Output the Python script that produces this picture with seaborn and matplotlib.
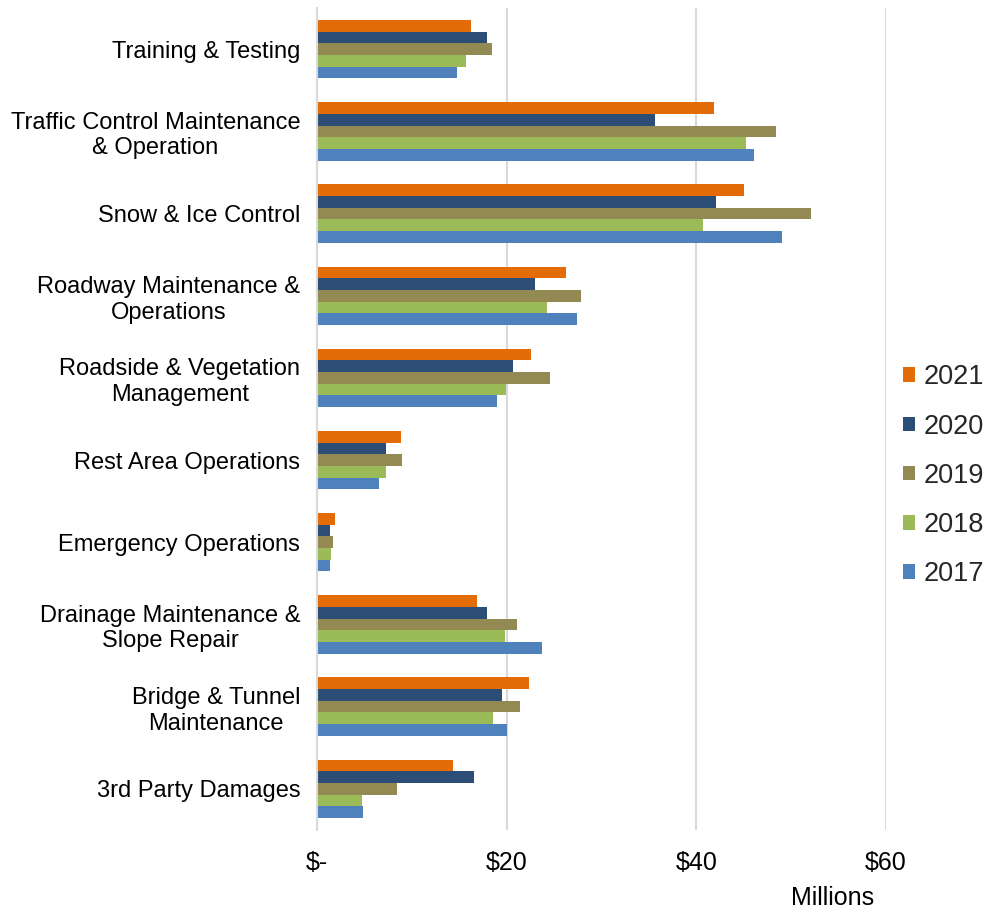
import matplotlib
matplotlib.use("Agg")
import matplotlib.pyplot as plt
import seaborn as sns
import pandas as pd
from matplotlib.patches import Patch

categories = [
    "Training & Testing",
    "Traffic Control Maintenance\n& Operation",
    "Snow & Ice Control",
    "Roadway Maintenance &\nOperations",
    "Roadside & Vegetation\nManagement",
    "Rest Area Operations",
    "Emergency Operations",
    "Drainage Maintenance &\nSlope Repair",
    "Bridge & Tunnel\nMaintenance",
    "3rd Party Damages",
]
years = ["2021", "2020", "2019", "2018", "2017"]
v2021 = [16.2, 41.9, 45.0, 26.3, 22.6, 8.9, 1.9, 16.9, 22.3, 14.3]
v2020 = [17.9, 35.6, 42.1, 23.0, 20.7, 7.3, 1.4, 17.9, 19.5, 16.6]
v2019 = [18.4, 48.4, 52.1, 27.8, 24.6, 9.0, 1.65, 21.1, 21.4, 8.4]
v2018 = [15.7, 45.2, 40.7, 24.3, 19.9, 7.3, 1.5, 19.8, 18.6, 4.75]
v2017 = [14.8, 46.1, 49.0, 27.4, 19.0, 6.5, 1.4, 23.7, 20.0, 4.9]
colors = ["#E36C09", "#2C4D75", "#938953", "#9BBB59", "#4F81BD"]
xticks = [0, 20, 40, 60]
xticklabels = ["$-", "$20", "$40", "$60"]

series = [v2021, v2020, v2019, v2018, v2017]
rows = []
for y, vals in zip(years, series):
    for c, v in zip(categories, vals):
        rows.append({"category": c, "year": y, "value": v})
df = pd.DataFrame(rows)

sns.set_theme(style="white")
plt.rcParams["font.family"] = ["Liberation Sans", "DejaVu Sans"]

fig = plt.figure(figsize=(9.89, 9.15), dpi=100)
ax = fig.add_axes([0.3205, 0.093, 0.5755, 0.898])

sns.barplot(data=df, y="category", x="value", hue="year", order=categories,
            hue_order=years, palette=colors, orient="h", width=0.71,
            saturation=1, ax=ax, legend=False, errorbar=None, linewidth=0)

ax.set_xlim(0, 60)
ax.set_ylim(len(categories) - 0.5, -0.5)
ax.set_xticks(xticks)
ax.set_xticklabels(xticklabels, fontsize=18, color="#000000")
ax.tick_params(axis="x", length=0, pad=15)
ax.tick_params(axis="y", length=0, pad=12, labelsize=17, labelcolor="#000000")
for lab in ax.get_yticklabels():
    lab.set_multialignment("center")
ax.set_xlabel("")
ax.set_ylabel("")
ax.grid(axis="x", color="#D9D9D9", linewidth=1.5)
ax.set_axisbelow(True)
for s in ["top", "right", "bottom"]:
    ax.spines[s].set_visible(False)
ax.spines["left"].set_color("#D9D9D9")
ax.spines["left"].set_linewidth(1.5)

handles = [Patch(facecolor=c, edgecolor="none", label=y) for c, y in zip(colors, years)]
fig.legend(handles=handles, loc="center left", bbox_to_anchor=(0.913, 0.480),
           frameon=False, fontsize=19.5, handlelength=0.45, handleheight=0.45,
           handletextpad=0.3, labelspacing=0.86, borderpad=0, borderaxespad=0)

fig.text(0.842, 0.0186, "Millions", fontsize=18, ha="center", va="center", color="#000000")

fig.savefig("out.png", dpi=100)
